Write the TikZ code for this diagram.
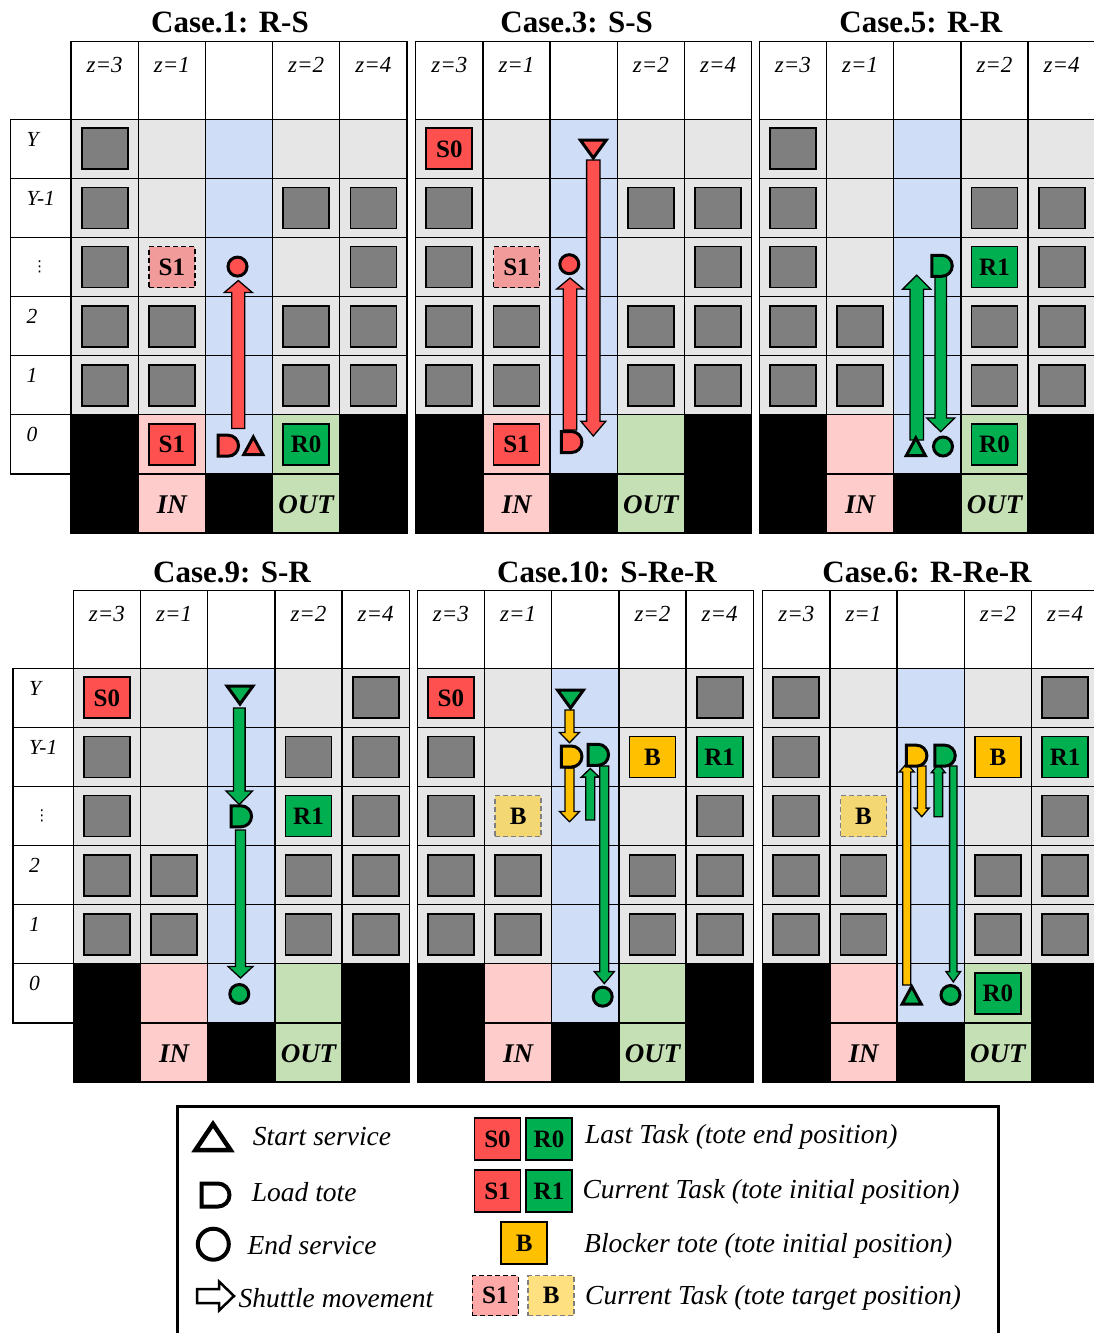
\documentclass[tikz,border=0pt]{standalone}
\usepackage{fontspec}
\setmainfont{Liberation Serif}
\newfontfamily\djvfont{DejaVu Sans}
\definecolor{cgray}{HTML}{E6E6E6}
\definecolor{cblue}{HTML}{CFDDF6}
\definecolor{cpink}{HTML}{FFCCCC}
\definecolor{cgreen}{HTML}{C5E0B4}
\definecolor{tgray}{HTML}{7F7F7F}
\definecolor{tred}{HTML}{FF5050}
\definecolor{tgreen}{HTML}{00B050}
\definecolor{torange}{HTML}{FFC000}
\definecolor{tredt}{HTML}{F29B9B}
\definecolor{toranget}{HTML}{F2D773}
\definecolor{lredt}{HTML}{FFA8A8}
\definecolor{loranget}{HTML}{FFE080}
\tikzset{
  gridline/.style={draw=black, line width=1.3pt},
  totenode/.style={draw=black, line width=1.8pt, minimum width=46pt, minimum height=41pt, inner sep=0pt, font={\fontsize{25}{25}\selectfont\bfseries}},
  hdr/.style={inner sep=0pt, font={\fontsize{23}{23}\selectfont\itshape}},
  rlab/.style={inner sep=0pt, font={\fontsize{21.5}{21.5}\selectfont\itshape}},
  iotext/.style={inner sep=0pt, font={\fontsize{27}{27}\selectfont\bfseries\itshape}},
  ttl/.style={inner sep=0pt, font={\fontsize{31}{31}\selectfont\bfseries}},
  legtext/.style={inner sep=0pt, anchor=west, font={\fontsize{27.5}{27.5}\selectfont\itshape}},
  mkline/.style={draw=black, line width=3pt, line join=miter},
  arrline/.style={draw=black, line width=1.3pt, line join=miter},
}
% panel base grid: #1 name prefix
\newcommand{\panelbase}[1]{%
  \foreach \c in {0,...,4} \draw[gridline, fill=white] (\c*67.2,0) rectangle ++(67.2,78);
  \foreach \c/\t in {0/3,1/1,3/2,4/4} \node[hdr] at (\c*67.2+33.6,23.5) {z=\t};
  \foreach \r in {0,...,4} {
    \foreach \c in {0,1,3,4} \draw[gridline, fill=cgray] (\c*67.2,78+\r*59.1) rectangle ++(67.2,59.1);
    \draw[gridline, fill=cblue] (134.4,78+\r*59.1) rectangle ++(67.2,59.1);
  }
  \draw[gridline, fill=black] (0,373.5) rectangle ++(67.2,59.1);
  \draw[gridline, fill=cpink] (67.2,373.5) rectangle ++(67.2,59.1);
  \draw[gridline, fill=cblue] (134.4,373.5) rectangle ++(67.2,59.1);
  \draw[gridline, fill=cgreen] (201.6,373.5) rectangle ++(67.2,59.1);
  \draw[gridline, fill=black] (268.8,373.5) rectangle ++(67.2,59.1);
  \draw[gridline, fill=black] (0,432.6) rectangle ++(67.2,59.1);
  \draw[gridline, fill=cpink] (67.2,432.6) rectangle ++(67.2,59.1);
  \draw[gridline, fill=black] (134.4,432.6) rectangle ++(67.2,59.1);
  \draw[gridline, fill=cgreen] (201.6,432.6) rectangle ++(67.2,59.1);
  \draw[gridline, fill=black] (268.8,432.6) rectangle ++(67.2,59.1);
  \node[iotext] (#1-in) at (100.8,463) {IN};
  \node[iotext] (#1-out) at (235.2,463) {OUT};
}
\newcommand{\rowlabels}[1]{%
  \foreach \r in {0,...,5} \draw[gridline, fill=white] (-60.3,78+\r*59.1) rectangle ++(60.3,59.1);
  \foreach \r/\t in {0/Y,1/Y-1,3/2,4/1,5/0} \node[rlab, anchor=west] (#1-l\r) at (-44.5,78+\r*59.1+20) {\t};
  \node[inner sep=0pt, font={\fontsize{15}{15}\selectfont\djvfont}] (#1-l2) at (-31.5,78+2*59.1+29) {⋮};
}
\newcommand{\grays}[2]{\foreach \c/\r in {#2} \node[totenode, fill=tgray] (#1-\c-\r) at ({\c*67.2+33.6},{78+\r*59.1+29.55}) {};}
\newcommand{\ctote}[5]{\node[totenode, fill=#4] (#1) at ({#2*67.2+33.6},{78+#3*59.1+29.55}) {#5};}
\newcommand{\ttote}[6]{\node[totenode, fill=#4, draw=#5, line width=1.5pt, dash pattern=on 5pt off 3pt] (#1) at ({#2*67.2+33.6},{78+#3*59.1+29.55}) {#6};}
% arrow: x, ystart, ytip, colour, half shaft, half head, head length
\newcommand{\sarrow}[7]{%
  \pgfmathsetmacro{\myab}{#3>#2 ? #3-#7 : #3+#7}%
  \draw[arrline, fill=#4] ({#1-#5},#2) -- ({#1-#5},\myab) -- ({#1-#6},\myab) -- (#1,#3) -- ({#1+#6},\myab) -- ({#1+#5},\myab) -- ({#1+#5},#2) -- cycle;}
\newcommand{\mkcirc}[3]{\draw[mkline, fill=#3] (#1,#2) circle[radius=9.5];}
\newcommand{\mkup}[3]{\draw[mkline, fill=#3] ({#1-9.5},{#2+8.5}) -- ({#1+9.5},{#2+8.5}) -- (#1,{#2-9}) -- cycle;}
\newcommand{\mkdown}[3]{\draw[mkline, fill=#3] ({#1-13},{#2-8.5}) -- ({#1+13},{#2-8.5}) -- (#1,{#2+9.5}) -- cycle;}
% D: x y colour halfheight flatlength
\newcommand{\mkD}[6][3pt]{%
  \pgfmathsetmacro{\myxl}{#2-(#5+#6)/2}%
  \pgfmathsetmacro{\myxm}{\myxl+#6}%
  \pgfmathsetmacro{\myxr}{\myxm+#5}%
  \pgfmathsetmacro{\mykk}{0.5523*#5}%
  \draw[mkline, line width=#1, fill=#4] (\myxl,{#3-#5}) -- (\myxm,{#3-#5}) .. controls ({\myxm+\mykk},{#3-#5}) and (\myxr,{#3-\mykk}) .. (\myxr,#3) .. controls (\myxr,{#3+\mykk}) and ({\myxm+\mykk},{#3+#5}) .. (\myxm,{#3+#5}) -- (\myxl,{#3+#5}) -- cycle;}
\begin{document}
\begin{tikzpicture}[x=1pt,y=-1pt]
\useasboundingbox (0,0) rectangle (1093,1333);
\fill[white] (0,0) rectangle (1093,1333);
% titles
\node[ttl] (t1) at (230,22) {Case.1: R-S};
\node[ttl] (t3) at (576.7,22) {Case.3: S-S};
\node[ttl] (t5) at (920.8,22) {Case.5: R-R};
\node[ttl] (t9) at (232,572) {Case.9: S-R};
\node[ttl] (t10) at (607,572) {Case.10: S-Re-R};
\node[ttl] (t6) at (927,572) {Case.6: R-Re-R};
% Panel 1
\begin{scope}[shift={(71,41.3)}]
  \panelbase{pa}\rowlabels{pa}
  \grays{pa}{0/0,0/1,3/1,4/1,0/2,4/2,0/3,1/3,3/3,4/3,0/4,1/4,3/4,4/4}
  \ttote{pa-s1t}{1}{2}{tredt}{black}{S1}
  \ctote{pa-s1}{1}{5}{tred}{S1}
  \ctote{pa-r0}{3}{5}{tgreen}{R0}
\end{scope}
% Panel 2
\begin{scope}[shift={(415.7,41.3)}]
  \panelbase{pb}
  \grays{pb}{0/1,3/1,4/1,0/2,4/2,0/3,1/3,3/3,4/3,0/4,1/4,3/4,4/4}
  \ctote{pb-s0}{0}{0}{tred}{S0}
  \ttote{pb-s1t}{1}{2}{tredt}{black}{S1}
  \ctote{pb-s1}{1}{5}{tred}{S1}
\end{scope}
% Panel 3
\begin{scope}[shift={(759.3,41.3)}]
  \panelbase{pc}
  \grays{pc}{0/0,0/1,3/1,4/1,0/2,4/2,0/3,1/3,3/3,4/3,0/4,1/4,3/4,4/4}
  \ctote{pc-r1}{3}{2}{tgreen}{R1}
  \ctote{pc-r0}{3}{5}{tgreen}{R0}
\end{scope}
% Panel 4
\begin{scope}[shift={(73.3,590.3)}]
  \panelbase{pd}\rowlabels{pd}
  \grays{pd}{4/0,0/1,3/1,4/1,0/2,4/2,0/3,1/3,3/3,4/3,0/4,1/4,3/4,4/4}
  \ctote{pd-s0}{0}{0}{tred}{S0}
  \ctote{pd-r1}{3}{2}{tgreen}{R1}
\end{scope}
% Panel 5
\begin{scope}[shift={(417.3,590.3)}]
  \panelbase{pe}
  \grays{pe}{4/0,0/1,0/2,4/2,0/3,1/3,3/3,4/3,0/4,1/4,3/4,4/4}
  \ctote{pe-s0}{0}{0}{tred}{S0}
  \ctote{pe-b}{3}{1}{torange}{B}
  \ctote{pe-r1}{4}{1}{tgreen}{R1}
  \ttote{pe-bt}{1}{2}{toranget}{tgray}{B}
\end{scope}
% Panel 6
\begin{scope}[shift={(762.7,590.3)}]
  \panelbase{pf}
  \grays{pf}{0/0,4/0,0/1,0/2,4/2,0/3,1/3,3/3,4/3,0/4,1/4,3/4,4/4}
  \ctote{pf-b}{3}{1}{torange}{B}
  \ctote{pf-r1}{4}{1}{tgreen}{R1}
  \ttote{pf-bt}{1}{2}{toranget}{tgray}{B}
  \ctote{pf-r0}{3}{5}{tgreen}{R0}
\end{scope}
% shuttle movements
\sarrow{238.3}{428.5}{280.5}{tred}{6.5}{14}{12}
\sarrow{593.3}{160}{436}{tred}{6.7}{12.5}{14.8}
\sarrow{570}{430}{278}{tred}{6.7}{13.3}{11}
\sarrow{916.7}{440}{275.2}{tgreen}{6.7}{14}{14}
\sarrow{940.7}{275}{431.7}{tgreen}{5.8}{14}{13.7}
\sarrow{239.3}{708}{804.6}{tgreen}{5.8}{13.3}{13.7}
\sarrow{240.5}{830}{978}{tgreen}{5}{12.5}{11.6}
\sarrow{569.5}{710}{742.7}{torange}{4.5}{10}{10.3}
\sarrow{569.5}{768}{821.8}{torange}{4.5}{10}{10.3}
\sarrow{590.3}{820}{768.5}{tgreen}{4.5}{9}{8.6}
\sarrow{604.3}{766}{983.6}{tgreen}{4.5}{10}{12}
\sarrow{906.7}{985}{763.4}{torange}{4}{7.5}{8.6}
\sarrow{921.7}{766}{816.7}{torange}{4.2}{7.5}{8.6}
\sarrow{938.3}{816.7}{764}{tgreen}{4.3}{7}{8.6}
\sarrow{953.3}{766}{981.9}{tgreen}{3.7}{7.3}{10.3}
% markers
\mkcirc{237.5}{266.6}{tred}
\mkD{228.3}{445.7}{tred}{10.5}{10}
\mkup{253.3}{446}{tred}
\mkdown{593.3}{148.5}{tred}
\mkcirc{569.3}{264.2}{tred}
\mkD{571.7}{442}{tred}{10.5}{10}
\mkD{942}{265.8}{tgreen}{10.5}{10}
\mkup{915.8}{447}{tgreen}
\mkcirc{943}{446.5}{tgreen}
\mkdown{240}{694.5}{tgreen}
\mkD{241.3}{816.3}{tgreen}{10.5}{10}
\mkcirc{239.3}{994}{tgreen}
\mkdown{570.5}{698.5}{tgreen}
\mkD{571.7}{756.5}{torange}{10.5}{10}
\mkD{598.3}{754.8}{tgreen}{10.5}{10}
\mkcirc{602.7}{996.7}{tgreen}
\mkD{916.7}{755.7}{torange}{10.5}{10}
\mkD{945}{755.7}{tgreen}{10.5}{10}
\mkup{911.7}{995.5}{tgreen}
\mkcirc{950.5}{995}{tgreen}
% legend
\draw[line width=3pt] (177.3,1106) rectangle (998,1345);
\draw[line width=4.5pt, line join=miter, fill=white] (195.5,1150) -- (230.5,1150) -- (213,1124) -- cycle;
\mkD[4pt]{215.5}{1195}{white}{11.5}{16.5}
\draw[line width=4pt, fill=white] (213.3,1244.2) circle[radius=15.5];
\draw[line width=2.5pt, fill=white, line join=miter] (197,1289) -- (219,1289) -- (219,1281.5) -- (234,1296) -- (219,1310.5) -- (219,1303) -- (197,1303) -- cycle;
\node[legtext] (lg1) at (252.7,1137) {Start service};
\node[legtext] (lg2) at (251.7,1192) {Load tote};
\node[legtext] (lg3) at (247.3,1245) {End service};
\node[legtext] (lg4) at (238.3,1298) {Shuttle movement};
\node[totenode, minimum height=42pt, fill=tred] (lg-s0) at (497.5,1139) {S0};
\node[totenode, minimum height=42pt, fill=tgreen] (lg-r0) at (549,1139) {R0};
\node[totenode, minimum height=42pt, fill=tred] (lg-s1) at (497.5,1191.2) {S1};
\node[totenode, minimum height=42pt, fill=tgreen] (lg-r1) at (549,1191.2) {R1};
\node[totenode, minimum height=42pt, fill=torange] (lg-b) at (524.3,1243.3) {B};
\node[totenode, minimum height=40pt, fill=lredt, line width=1.5pt, dash pattern=on 5pt off 3pt] (lg-s1t) at (495.3,1295.5) {S1};
\node[totenode, minimum height=40pt, fill=loranget, draw=tgray, line width=1.5pt, dash pattern=on 5pt off 3pt] (lg-bt) at (551.1,1295.5) {B};
\node[legtext] (lg5) at (585,1137) {Last Task (tote end position)};
\node[legtext] (lg6) at (582.4,1192) {Current Task (tote initial position)};
\node[legtext] (lg7) at (584,1246) {Blocker tote (tote initial position)};
\node[legtext] (lg8) at (585,1298) {Current Task (tote target position)};
\end{tikzpicture}
\end{document}
